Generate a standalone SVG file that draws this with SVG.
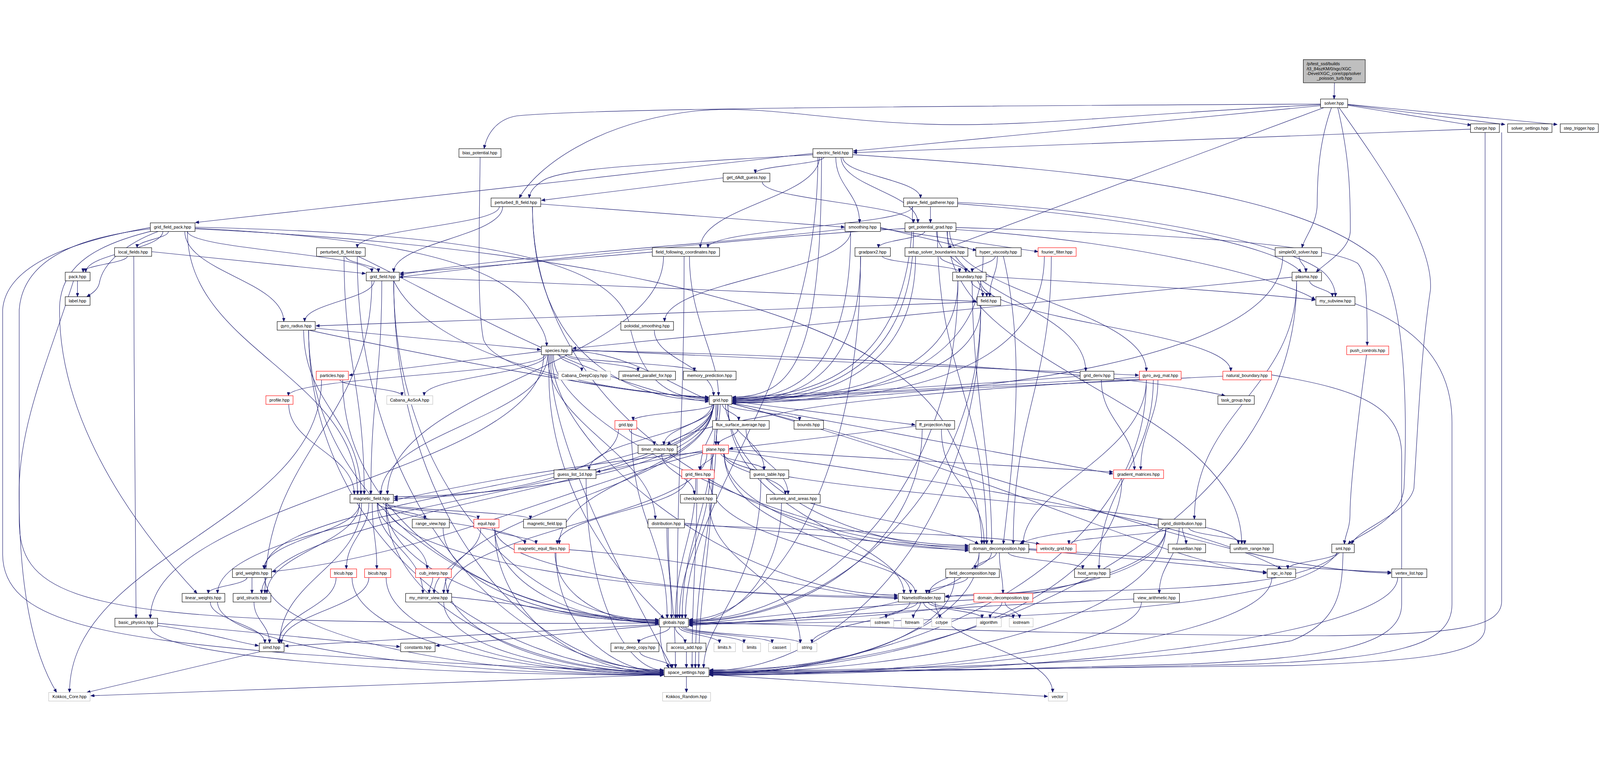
<svg xmlns="http://www.w3.org/2000/svg" width="4832" height="1948" viewBox="0 0 4832 1948" style="width:100%;height:100%">
<style>
.b rect{fill:#fff;stroke:#000;stroke-width:1.3}
.r rect{fill:#fff;stroke:#f00;stroke-width:1.3}
.g rect{fill:#fff;stroke:#bfbfbf;stroke-width:1.3}
.t rect{fill:#bfbfbf;stroke:#000;stroke-width:1.3}
text{font-family:"Liberation Sans",Arial,Helvetica,sans-serif;font-size:13px;fill:#000;text-anchor:middle}
.t text{text-anchor:start}
#edges path{fill:none;stroke:#191970;stroke-width:1.3;marker-end:url(#ah)}
</style>
<defs>
<marker id="ah" markerUnits="userSpaceOnUse" markerWidth="12" markerHeight="9" refX="11" refY="4.5" orient="auto"><path d="M0,0 L11,4.5 L0,9 z" fill="#191970" stroke="#191970" stroke-width="1"/></marker>
</defs>
<rect width="4832" height="1948" fill="#fff"/>
<g id="edges">
<path d="M4030,75 L4029,124"/>
<path d="M4070,143 L4443,203"/>
<path d="M4070,141 L4545,201"/>
<path d="M4070,140 L4703,201"/>
<path d="M3988,144 L2577,281"/>
<path d="M3988,139 C3000,145 1800,150 1560,175 C1500,185 1470,230 1462,274"/>
<path d="M3988,141 C3400,170 3100,210 2800,200 C2500,190 2300,140 2100,160 C1800,195 1620,330 1568,423"/>
<path d="M3998,150 L2862,573"/>
<path d="M4021,150 C3985,250 3978,350 3978,440 C3978,500 3940,540 3932,573"/>
<path d="M4040,150 C4075,300 4078,400 4078,520 C4078,580 4000,620 3975,647"/>
<path d="M4044,150 C4150,300 4330,550 4320,700 C4290,900 4283,1100 4270,1300 C4250,1380 4100,1420 4082,1468"/>
<path d="M4441,215 L2577,286"/>
<path d="M4485,225 C4485,600 4485,1500 4485,1720 C4485,1800 4300,1820 3900,1835 C3000,1850 2500,1852 2143,1855"/>
<path d="M4535,225 C4535,600 4535,1500 4535,1640 C4535,1720 4400,1740 4000,1745 C3000,1740 2500,1710 2081,1705"/>
<path d="M1450,299 C1448,500 1440,750 1460,850 C1500,960 1900,1010 2140,1026"/>
<path d="M2489,299 C2489,321 2281,326 2281,348"/>
<path d="M2455,292 C2000,320 1700,330 1640,370 C1610,390 1600,405 1598,423"/>
<path d="M2545,299 C2545,355 2780,367 2780,423"/>
<path d="M2455,288 L590,497"/>
<path d="M2524,299 C2524,389 2596,408 2596,498"/>
<path d="M2540,299 C2540,389 2772,408 2772,498"/>
<path d="M2475,299 C2475,422 2115,450 2115,573"/>
<path d="M2481,299 C2481,900 2400,1024 2212,1024"/>
<path d="M2470,299 C2470,1000 2070,1300 2070,1692"/>
<path d="M2575,292 C3300,340 3900,400 4150,600 C4250,700 4250,1100 4240,1300 C4230,1400 4100,1440 4071,1468"/>
<path d="M2184,362 L1635,430"/>
<path d="M2302,374 C2302,430 2759,442 2759,498"/>
<path d="M1508,449 C1508,505 1079,517 1079,573"/>
<path d="M1633,441 L2551,511"/>
<path d="M1518,449 C1518,538 1189,558 1189,647"/>
<path d="M1608,449 C1608,900 1900,1034 2140,1034"/>
<path d="M1608,449 C1608,1065 2266,1476 2925,1476"/>
<path d="M2810,449 L2810,498"/>
<path d="M2756,449 C2756,505 2138,517 2138,573"/>
<path d="M2892,440 C3400,480 3850,560 3930,647"/>
<path d="M2892,436 C3400,460 3900,560 4000,650 C4025,675 4033,700 4033,721"/>
<path d="M2756,449 C2756,950 2450,1027 2212,1027"/>
<path d="M509,523 C509,546 414,550 414,573"/>
<path d="M492,523 C492,579 259,591 259,647"/>
<path d="M480,523 C380,560 310,620 300,680 C295,700 280,710 262,721"/>
<path d="M566,523 C566,579 1123,591 1123,647"/>
<path d="M558,523 C558,646 857,673 857,796"/>
<path d="M566,523 C566,881 1080,960 1080,1318"/>
<path d="M589,511 C1400,530 1850,600 1900,800 C1930,950 2000,1030 2140,1030"/>
<path d="M589,514 C1100,540 1500,600 1600,760 C1640,820 1651,840 1651,870"/>
<path d="M454,512 C300,540 20,600 8,760 L8,1500 C10,1700 300,1750 900,1800 C1500,1840 1900,1850 2004,1854"/>
<path d="M454,516 C250,540 70,600 58,760 L58,1400 C60,1600 200,1680 1000,1700 C1600,1712 1900,1706 1989,1706"/>
<path d="M470,520 C300,560 185,620 180,750 C175,1000 300,1300 595,1617"/>
<path d="M589,516 C1500,560 2600,700 2850,1100 C2950,1280 2965,1400 2965,1468"/>
<path d="M385,598 C385,620 251,625 251,647"/>
<path d="M458,585 L1104,651"/>
<path d="M404,598 C404,1000 411,1500 411,1692"/>
<path d="M1043,598 C1043,620 1143,625 1143,647"/>
<path d="M1079,598 C1300,700 1800,1000 2140,1038"/>
<path d="M1039,598 C1039,922 1100,994 1100,1318"/>
<path d="M1079,598 C1079,1348 1541,1848 2004,1848"/>
<path d="M1970,586 L1208,650"/>
<path d="M2004,598 C2004,922 1170,994 1170,1318"/>
<path d="M2082,598 C2082,788 2170,900 2170,1020"/>
<path d="M2066,598 C2066,1090 2045,1200 2045,1692"/>
<path d="M2659,512 L2949,581"/>
<path d="M2659,515 L3135,585"/>
<path d="M2569,523 C2569,646 2007,673 2007,796"/>
<path d="M2552,516 C2200,560 1500,600 1208,655"/>
<path d="M2569,523 C2569,950 2400,1030 2212,1030"/>
<path d="M2793,523 C2793,546 2653,550 2653,573"/>
<path d="M2860,523 C2860,713 3279,756 3279,946"/>
<path d="M2868,523 C2868,713 3462,756 3462,946"/>
<path d="M2759,523 C2759,960 2450,1033 2212,1033"/>
<path d="M2733,515 C2300,540 1700,600 1206,662"/>
<path d="M2887,512 C3500,530 4000,560 4100,620 C4125,650 4129,700 4129,868"/>
<path d="M2831,523 C2831,948 2980,1043 2980,1468"/>
<path d="M2828,523 C2828,612 2968,632 2968,721"/>
<path d="M2887,518 C3500,560 3900,680 3972,730"/>
<path d="M2861,523 C2861,948 3750,1043 3750,1468"/>
<path d="M2664,598 C2664,620 2898,625 2898,647"/>
<path d="M2599,598 C2599,970 2400,1036 2212,1036"/>
<path d="M2599,598 C2599,1257 2340,1696 2081,1696"/>
<path d="M2838,598 C2838,620 2917,625 2917,647"/>
<path d="M2765,598 C2765,970 2450,1039 2212,1039"/>
<path d="M3006,598 C3006,620 2936,625 2936,647"/>
<path d="M3012,598 C3012,654 2989,665 2989,721"/>
<path d="M2969,598 C2969,990 2500,1042 2212,1042"/>
<path d="M3030,598 C3100,900 3060,1200 3030,1468"/>
<path d="M3154,598 C3154,990 2600,1040 2212,1040"/>
<path d="M3175,598 C3175,989 3060,1077 3060,1468"/>
<path d="M3923,598 C3923,620 3944,625 3944,647"/>
<path d="M3874,598 C3874,950 2700,1035 2212,1035"/>
<path d="M234,673 L234,721"/>
<path d="M222,673 C150,900 60,1100 58,1300 C56,1600 100,1800 171,1916"/>
<path d="M1130,673 C1130,728 920,741 920,796"/>
<path d="M1206,661 L2949,735"/>
<path d="M1189,673 C1300,900 1800,1010 2140,1024"/>
<path d="M1153,673 C1153,963 1120,1028 1120,1318"/>
<path d="M1189,673 C1189,1291 1589,1698 1989,1698"/>
<path d="M1189,673 C1189,1379 1596,1850 2004,1850"/>
<path d="M1123,673 C1123,1098 800,1192 800,1617"/>
<path d="M2933,673 C2933,695 2980,699 2980,721"/>
<path d="M2961,673 C2961,796 3717,823 3717,946"/>
<path d="M2978,660 C3300,680 3700,700 3972,731"/>
<path d="M2893,673 C2893,980 2500,1032 2212,1032"/>
<path d="M2936,673 C2936,1000 2995,1200 2995,1468"/>
<path d="M2893,673 C2893,1288 2487,1698 2081,1698"/>
<path d="M3955,673 C3955,695 4024,699 4024,721"/>
<path d="M3902,662 L1729,877"/>
<path d="M3916,673 C3916,997 3607,1069 3607,1393"/>
<path d="M3916,673 C3916,1378 3030,1848 2143,1848"/>
<path d="M2951,737 L954,809"/>
<path d="M2962,747 C2962,990 2500,1028 2212,1028"/>
<path d="M2962,747 C2962,1319 2521,1700 2081,1700"/>
<path d="M2962,747 C2962,1404 2553,1850 2143,1850"/>
<path d="M4092,742 C4250,800 4385,900 4385,1100 L4385,1650 C4385,1780 4200,1810 3800,1830 C3000,1850 2500,1855 2143,1857"/>
<path d="M952,816 L1633,881"/>
<path d="M917,822 C917,1046 1090,1094 1090,1318"/>
<path d="M932,822 C1300,900 1800,1000 2140,1028"/>
<path d="M932,822 C932,1346 1460,1696 1989,1696"/>
<path d="M932,822 C932,1439 1468,1852 2004,1852"/>
<path d="M1976,822 C1976,911 2155,931 2155,1020"/>
<path d="M1689,896 C1689,918 1757,924 1757,946"/>
<path d="M1708,896 C1708,918 1927,924 1927,946"/>
<path d="M1716,896 C1716,918 2097,924 2097,946"/>
<path d="M1650,896 C1650,952 1281,964 1281,1020"/>
<path d="M1635,886 L1054,958"/>
<path d="M1646,896 C1646,952 871,964 871,1020"/>
<path d="M1727,885 C1900,890 2050,1000 2140,1032"/>
<path d="M1727,881 L3439,958"/>
<path d="M1727,883 C2600,900 3400,950 3700,1020"/>
<path d="M1654,896 C1654,1086 1150,1128 1150,1318"/>
<path d="M1660,896 C1645,1100 1700,1400 2005,1692"/>
<path d="M1664,896 C1648,1150 1900,1600 2030,1842"/>
<path d="M1668,896 C1650,1150 2200,1620 2711,1622"/>
<path d="M1672,896 C1655,1100 2400,1470 2925,1472"/>
<path d="M1656,896 C1640,1100 1979,1200 1979,1393"/>
<path d="M1642,896 C1642,1254 454,1334 454,1692"/>
<path d="M4127,896 C4100,1100 4077,1300 4077,1380 C4077,1420 4062,1440 4060,1468"/>
<path d="M1026,971 C1026,993 1214,998 1214,1020"/>
<path d="M971,971 C971,1400 210,1500 210,1916"/>
<path d="M1035,971 C1035,1408 1512,1699 1989,1699"/>
<path d="M3326,972 C3326,1094 3426,1122 3426,1244"/>
<path d="M3262,961 C2900,990 2500,1010 2212,1025"/>
<path d="M3497,972 C3497,1094 3445,1122 3445,1244"/>
<path d="M3441,964 C3000,990 2500,1015 2212,1031"/>
<path d="M3483,972 C3483,1229 3319,1286 3319,1543"/>
<path d="M3462,972 C3462,1200 3090,1300 3090,1468"/>
<path d="M3441,970 C2900,1000 2500,1040 2350,1075 C2150,1110 2060,1130 2015,1169"/>
<path d="M3462,972 C3462,1500 2803,1852 2143,1852"/>
<path d="M3693,961 C3200,985 2600,1010 2212,1037"/>
<path d="M3840,957 C4100,1000 4233,1050 4233,1200 L4233,1650 C4233,1780 4000,1810 3600,1830 C2900,1850 2500,1855 2143,1860"/>
<path d="M872,1046 C872,1168 1070,1196 1070,1318"/>
<path d="M2154,1046 C2154,1068 1912,1073 1912,1095"/>
<path d="M2182,1046 C2182,1068 2231,1073 2231,1095"/>
<path d="M2198,1046 C2198,1068 2415,1073 2415,1095"/>
<path d="M2210,1036 L2764,1108"/>
<path d="M2157,1046 C2157,1102 2005,1113 2005,1169"/>
<path d="M2175,1046 C2175,1102 2162,1113 2162,1169"/>
<path d="M2150,1046 C2150,1135 1779,1155 1779,1244"/>
<path d="M2169,1046 C2169,1135 2115,1155 2115,1244"/>
<path d="M2191,1046 C2191,1135 2308,1155 2308,1244"/>
<path d="M2210,1042 L3361,1256"/>
<path d="M2154,1046 C2154,1250 1500,1325 1190,1325"/>
<path d="M2198,1046 C2198,1300 2600,1480 2925,1480"/>
<path d="M2198,1046 C2198,1400 2730,1450 2730,1617"/>
<path d="M2162,1046 C2162,1350 2060,1450 2060,1692"/>
<path d="M2166,1046 C2166,1400 2100,1500 2100,1842"/>
<path d="M2154,1046 C2154,1270 800,1319 800,1543"/>
<path d="M2154,1046 C2154,1303 790,1360 790,1617"/>
<path d="M2154,1046 C2154,1303 1340,1360 1340,1617"/>
<path d="M2210,1044 C3200,1300 3700,1540 4201,1556"/>
<path d="M2210,1043 C3100,1290 3500,1520 3825,1556"/>
<path d="M2154,1046 C2154,1236 1689,1278 1689,1468"/>
<path d="M2154,1046 C2154,1303 657,1360 657,1617"/>
<path d="M1900,1121 C1900,1143 1976,1147 1976,1169"/>
<path d="M1868,1121 C1868,1250 1500,1330 1190,1330"/>
<path d="M1907,1121 C1907,1400 2015,1450 2015,1692"/>
<path d="M2229,1121 C2229,1143 2169,1147 2169,1169"/>
<path d="M2253,1121 C2253,1210 2380,1229 2380,1318"/>
<path d="M2766,1112 L2202,1180"/>
<path d="M2843,1121 C2843,1294 2972,1295 2972,1468"/>
<path d="M2785,1121 C2785,1470 2433,1702 2081,1702"/>
<path d="M1998,1195 C1998,1251 2097,1262 2097,1318"/>
<path d="M2122,1186 L1802,1250"/>
<path d="M2156,1195 C2156,1217 2113,1222 2113,1244"/>
<path d="M2177,1195 C2177,1217 2307,1222 2307,1244"/>
<path d="M2122,1190 C1700,1230 1400,1290 1190,1336"/>
<path d="M2185,1195 C2185,1251 2372,1262 2372,1318"/>
<path d="M2200,1182 L3361,1250"/>
<path d="M2187,1195 C2187,1360 2550,1484 2925,1484"/>
<path d="M2187,1195 C2187,1450 2750,1480 2750,1617"/>
<path d="M2200,1186 C3000,1300 3600,1400 3870,1543"/>
<path d="M2187,1195 C2187,1318 3740,1345 3740,1468"/>
<path d="M2122,1192 C1700,1300 1300,1500 822,1551"/>
<path d="M2135,1195 C2135,1385 1352,1427 1352,1617"/>
<path d="M2148,1195 C2148,1450 2052,1500 2052,1692"/>
<path d="M2152,1195 C2152,1500 2110,1600 2110,1842"/>
<path d="M1770,1270 C1770,1617 1887,1849 2004,1849"/>
<path d="M2075,1270 C2075,1359 1683,1379 1683,1468"/>
<path d="M2101,1270 C2101,1450 2040,1500 2040,1692"/>
<path d="M2141,1270 C2141,1480 2765,1500 2765,1617"/>
<path d="M2105,1270 C2105,1500 2090,1600 2090,1842"/>
<path d="M2298,1270 C2298,1600 2125,1700 2125,1842"/>
<path d="M3388,1270 C3388,1620 2766,1854 2143,1854"/>
<path d="M1140,1344 C1140,1366 1283,1371 1283,1393"/>
<path d="M1157,1344 C1157,1366 1444,1371 1444,1393"/>
<path d="M1165,1344 C1165,1366 1602,1371 1602,1393"/>
<path d="M1114,1344 C1114,1433 1046,1454 1046,1543"/>
<path d="M1124,1344 C1124,1433 1138,1454 1138,1543"/>
<path d="M1141,1344 C1141,1433 1290,1454 1290,1543"/>
<path d="M1165,1344 C1165,1400 1585,1412 1585,1468"/>
<path d="M1139,1344 C1139,1467 1277,1494 1277,1617"/>
<path d="M1165,1344 C1165,1558 1577,1701 1989,1701"/>
<path d="M1165,1344 C1165,1651 1584,1856 2004,1856"/>
<path d="M1165,1344 C1165,1513 1938,1626 2711,1626"/>
<path d="M1092,1344 C1092,1534 845,1577 845,1767"/>
<path d="M1086,1344 C1086,1433 797,1454 797,1543"/>
<path d="M1086,1344 C1086,1467 806,1494 806,1617"/>
<path d="M2142,1344 C2142,1534 2417,1577 2417,1767"/>
<path d="M2360,1344 C2360,1560 2220,1704 2081,1704"/>
<path d="M2447,1344 C2600,1390 2900,1430 2955,1468"/>
<path d="M1338,1419 C1338,1589 1663,1703 1989,1703"/>
<path d="M1486,1419 C1486,1441 1619,1446 1619,1468"/>
<path d="M1494,1419 C1494,1591 1741,1705 1989,1705"/>
<path d="M1494,1419 C1494,1546 2102,1630 2711,1630"/>
<path d="M1494,1419 C1494,1682 1749,1858 2004,1858"/>
<path d="M1452,1419 C1452,1508 1311,1528 1311,1617"/>
<path d="M2067,1405 C2500,1440 2800,1480 2925,1488"/>
<path d="M2067,1410 C2600,1430 3000,1440 3140,1468"/>
<path d="M2014,1419 C2014,1550 2028,1560 2028,1692"/>
<path d="M2018,1419 C2018,1609 2040,1652 2040,1842"/>
<path d="M3571,1419 C3571,1441 3582,1446 3582,1468"/>
<path d="M3561,1419 C3561,1508 3501,1528 3501,1617"/>
<path d="M3531,1419 C3531,1441 3228,1446 3228,1468"/>
<path d="M3590,1419 C3590,1441 3759,1446 3759,1468"/>
<path d="M3498,1408 C3300,1420 3120,1440 3080,1468"/>
<path d="M3521,1419 C3521,1550 3200,1625 2855,1625"/>
<path d="M3521,1419 C3521,1591 2801,1706 2081,1706"/>
<path d="M3521,1419 C3521,1681 2832,1856 2143,1856"/>
<path d="M1015,1569 C1015,1658 842,1678 842,1767"/>
<path d="M1063,1569 C1063,1744 1533,1860 2004,1860"/>
<path d="M1114,1569 C1114,1658 850,1678 850,1767"/>
<path d="M1166,1569 C1166,1744 1585,1861 2004,1861"/>
<path d="M746,1569 C746,1591 629,1595 629,1617"/>
<path d="M761,1569 L761,1617"/>
<path d="M800,1569 C800,1745 1402,1862 2004,1862"/>
<path d="M1676,1494 C1676,1622 1832,1707 1989,1707"/>
<path d="M1679,1494 C1679,1710 1841,1854 2004,1854"/>
<path d="M1719,1485 C2200,1520 2500,1628 2711,1632"/>
<path d="M3009,1494 C3009,1516 2945,1521 2945,1543"/>
<path d="M3018,1494 C3018,1550 3029,1561 3029,1617"/>
<path d="M3045,1494 C3045,1516 3270,1521 3270,1543"/>
<path d="M2994,1494 C2994,1550 2806,1561 2806,1617"/>
<path d="M2957,1494 C2957,1622 2519,1708 2081,1708"/>
<path d="M2957,1494 C2957,1712 2550,1858 2143,1858"/>
<path d="M3107,1485 C3400,1510 3700,1540 3825,1553"/>
<path d="M3107,1482 C3500,1510 3900,1540 4201,1553"/>
<path d="M4037,1494 C4037,1516 3889,1521 3889,1543"/>
<path d="M4045,1494 C3950,1580 3700,1600 3300,1610 C3000,1615 2900,1620 2855,1628"/>
<path d="M4056,1494 C4053,1600 4050,1700 3900,1760 C3500,1830 2600,1851 2143,1851"/>
<path d="M4040,1494 C3950,1620 3500,1700 2081,1710"/>
<path d="M1307,1569 C1307,1591 1296,1595 1296,1617"/>
<path d="M1345,1569 C1345,1742 1674,1857 2004,1857"/>
<path d="M2922,1569 C2922,1591 2798,1595 2798,1617"/>
<path d="M2883,1569 C2883,1740 2513,1860 2143,1860"/>
<path d="M3841,1569 C3841,1744 2992,1862 2143,1862"/>
<path d="M4221,1569 C4221,1745 3182,1863 2143,1863"/>
<path d="M635,1643 C635,1699 800,1711 800,1767"/>
<path d="M657,1643 C657,1775 1330,1863 2004,1863"/>
<path d="M767,1643 C767,1699 814,1711 814,1767"/>
<path d="M1364,1628 C1600,1650 1850,1700 1989,1709"/>
<path d="M1340,1643 C1340,1772 1672,1859 2004,1859"/>
<path d="M2748,1643 C2748,1699 2452,1711 2452,1767"/>
<path d="M2771,1643 C2771,1665 2676,1670 2676,1692"/>
<path d="M2780,1643 C2780,1665 2758,1670 2758,1692"/>
<path d="M2789,1643 C2789,1665 2838,1670 2838,1692"/>
<path d="M2803,1643 C2803,1665 2966,1670 2966,1692"/>
<path d="M2813,1643 C2813,1665 3060,1670 3060,1692"/>
<path d="M2824,1643 C2824,1766 3179,1793 3179,1916"/>
<path d="M3026,1643 C3026,1665 2990,1670 2990,1692"/>
<path d="M3035,1643 C3035,1665 3079,1670 3079,1692"/>
<path d="M2941,1636 C2500,1660 2200,1700 2081,1712"/>
<path d="M3424,1634 C2800,1660 2300,1700 2081,1714"/>
<path d="M3447,1643 C3447,1776 2795,1864 2143,1864"/>
<path d="M476,1714 C600,1730 700,1760 781,1775"/>
<path d="M476,1707 L1208,1778"/>
<path d="M454,1718 C454,1806 1229,1864 2004,1864"/>
<path d="M2023,1718 C2023,1740 1929,1745 1929,1767"/>
<path d="M2039,1718 C2039,1740 2069,1745 2069,1767"/>
<path d="M2050,1718 C2050,1740 2173,1745 2173,1767"/>
<path d="M2058,1718 C2058,1740 2247,1745 2247,1767"/>
<path d="M2064,1718 C2064,1740 2332,1745 2332,1767"/>
<path d="M2070,1718 C2070,1740 2417,1745 2417,1767"/>
<path d="M1991,1712 L1316,1775"/>
<path d="M1995,1718 C1990,1760 2000,1800 2020,1842"/>
<path d="M1991,1710 C1500,1740 1100,1760 860,1776"/>
<path d="M785,1793 L262,1916"/>
<path d="M1932,1793 C1932,1815 2030,1820 2030,1842"/>
<path d="M2073,1793 L2073,1842"/>
<path d="M2073,1868 L2073,1916"/>
<path d="M2006,1862 L274,1926"/>
<path d="M2141,1862 L3164,1928"/>
</g>
<g id="n_title" class="t"><rect x="3936" y="5" width="187" height="70"/><text x="3946" y="22">/p/test_ssd/builds</text><text x="3946" y="37">/t3_84szKM/0/xgc/XGC</text><text x="3946" y="51">-Devel/XGC_core/cpp/solver</text><text x="4030" y="66" style="text-anchor:middle">_poisson_turb.hpp</text></g>
<g id="n_solver" class="b"><rect x="3988" y="124" width="82" height="26"/><text x="4029" y="141.5">solver.hpp</text></g>
<g id="n_charge" class="b"><rect x="4441" y="199" width="87" height="26"/><text x="4484" y="216.5">charge.hpp</text></g>
<g id="n_solver_settings" class="b"><rect x="4553" y="199" width="134" height="26"/><text x="4620" y="216.5">solver_settings.hpp</text></g>
<g id="n_step_trigger" class="b"><rect x="4712" y="199" width="115" height="26"/><text x="4769" y="216.5">step_trigger.hpp</text></g>
<g id="n_bias_potential" class="b"><rect x="1386" y="274" width="127" height="26"/><text x="1449" y="291.5">bias_potential.hpp</text></g>
<g id="n_electric_field" class="b"><rect x="2455" y="274" width="120" height="26"/><text x="2515" y="291.5">electric_field.hpp</text></g>
<g id="n_get_dAdt_guess" class="b"><rect x="2184" y="348" width="141" height="26"/><text x="2254" y="365.5">get_dAdt_guess.hpp</text></g>
<g id="n_perturbed_B_field_hpp" class="b"><rect x="1483" y="423" width="150" height="26"/><text x="1558" y="440.5">perturbed_B_field.hpp</text></g>
<g id="n_plane_field_gatherer" class="b"><rect x="2729" y="423" width="163" height="26"/><text x="2810" y="440.5">plane_field_gatherer.hpp</text></g>
<g id="n_grid_field_pack" class="b"><rect x="454" y="498" width="135" height="26"/><text x="521" y="515.5">grid_field_pack.hpp</text></g>
<g id="n_smoothing" class="b"><rect x="2552" y="498" width="107" height="26"/><text x="2605" y="515.5">smoothing.hpp</text></g>
<g id="n_get_potential_grad" class="b"><rect x="2733" y="498" width="154" height="26"/><text x="2810" y="515.5">get_potential_grad.hpp</text></g>
<g id="n_local_fields" class="b"><rect x="346" y="573" width="112" height="26"/><text x="402" y="590.5">local_fields.hpp</text></g>
<g id="n_perturbed_B_field_tpp" class="b"><rect x="956" y="573" width="147" height="26"/><text x="1029" y="590.5">perturbed_B_field.tpp</text></g>
<g id="n_field_following_coordinates" class="b"><rect x="1970" y="573" width="203" height="26"/><text x="2071" y="590.5">field_following_coordinates.hpp</text></g>
<g id="n_gradparx2" class="b"><rect x="2582" y="573" width="107" height="26"/><text x="2635" y="590.5">gradparx2.hpp</text></g>
<g id="n_setup_solver_boundaries" class="b"><rect x="2733" y="573" width="190" height="26"/><text x="2828" y="590.5">setup_solver_boundaries.hpp</text></g>
<g id="n_hyper_viscosity" class="b"><rect x="2947" y="573" width="137" height="26"/><text x="3015" y="590.5">hyper_viscosity.hpp</text></g>
<g id="n_fourier_filter" class="r"><rect x="3135" y="573" width="115" height="26"/><text x="3192" y="590.5">fourier_filter.hpp</text></g>
<g id="n_simple00_solver" class="b"><rect x="3851" y="573" width="140" height="26"/><text x="3921" y="590.5">simple00_solver.hpp</text></g>
<g id="n_pack" class="b"><rect x="197" y="647" width="75" height="26"/><text x="234" y="664.5">pack.hpp</text></g>
<g id="n_grid_field" class="b"><rect x="1106" y="647" width="100" height="26"/><text x="1156" y="664.5">grid_field.hpp</text></g>
<g id="n_boundary" class="b"><rect x="2877" y="647" width="101" height="26"/><text x="2927" y="664.5">boundary.hpp</text></g>
<g id="n_plasma" class="b"><rect x="3902" y="647" width="89" height="26"/><text x="3946" y="664.5">plasma.hpp</text></g>
<g id="n_label" class="b"><rect x="197" y="721" width="75" height="26"/><text x="234" y="738.5">label.hpp</text></g>
<g id="n_field" class="b"><rect x="2951" y="721" width="71" height="26"/><text x="2986" y="738.5">field.hpp</text></g>
<g id="n_my_subview" class="b"><rect x="3974" y="721" width="118" height="26"/><text x="4033" y="738.5">my_subview.hpp</text></g>
<g id="n_gyro_radius" class="b"><rect x="837" y="796" width="115" height="26"/><text x="894" y="813.5">gyro_radius.hpp</text></g>
<g id="n_poloidal_smoothing" class="b"><rect x="1875" y="796" width="159" height="26"/><text x="1954" y="813.5">poloidal_smoothing.hpp</text></g>
<g id="n_species" class="b"><rect x="1635" y="870" width="92" height="26"/><text x="1681" y="887.5">species.hpp</text></g>
<g id="n_push_controls" class="r"><rect x="4067" y="870" width="127" height="26"/><text x="4130" y="887.5">push_controls.hpp</text></g>
<g id="n_particles" class="r"><rect x="955" y="946" width="97" height="26"/><text x="1003" y="963.5">particles.hpp</text></g>
<g id="n_Cabana_DeepCopy" class="g"><rect x="1686" y="946" width="158" height="26"/><text x="1765" y="963.5">Cabana_DeepCopy.hpp</text></g>
<g id="n_streamed_parallel_for" class="b"><rect x="1869" y="946" width="171" height="26"/><text x="1954" y="963.5">streamed_parallel_for.hpp</text></g>
<g id="n_memory_prediction" class="b"><rect x="2064" y="946" width="159" height="26"/><text x="2143" y="963.5">memory_prediction.hpp</text></g>
<g id="n_grid_deriv" class="b"><rect x="3262" y="946" width="102" height="26"/><text x="3313" y="963.5">grid_deriv.hpp</text></g>
<g id="n_gyro_avg_mat" class="r"><rect x="3441" y="946" width="126" height="26"/><text x="3504" y="963.5">gyro_avg_mat.hpp</text></g>
<g id="n_natural_boundary" class="r"><rect x="3693" y="946" width="147" height="26"/><text x="3766" y="963.5">natural_boundary.hpp</text></g>
<g id="n_profile" class="r"><rect x="803" y="1020" width="82" height="26"/><text x="844" y="1037.5">profile.hpp</text></g>
<g id="n_Cabana_AoSoA" class="g"><rect x="1168" y="1020" width="139" height="26"/><text x="1237" y="1037.5">Cabana_AoSoA.hpp</text></g>
<g id="n_grid" class="b"><rect x="2142" y="1020" width="68" height="26"/><text x="2176" y="1037.5">grid.hpp</text></g>
<g id="n_task_group" class="b"><rect x="3678" y="1020" width="110" height="26"/><text x="3733" y="1037.5">task_group.hpp</text></g>
<g id="n_grid_tpp" class="r"><rect x="1857" y="1095" width="66" height="26"/><text x="1890" y="1112.5">grid.tpp</text></g>
<g id="n_flux_surface_average" class="b"><rect x="2152" y="1095" width="171" height="26"/><text x="2237" y="1112.5">flux_surface_average.hpp</text></g>
<g id="n_bounds" class="b"><rect x="2398" y="1095" width="89" height="26"/><text x="2442" y="1112.5">bounds.hpp</text></g>
<g id="n_ff_projection" class="b"><rect x="2766" y="1095" width="117" height="26"/><text x="2824" y="1112.5">ff_projection.hpp</text></g>
<g id="n_timer_macro" class="b"><rect x="1927" y="1169" width="118" height="26"/><text x="1986" y="1186.5">timer_macro.hpp</text></g>
<g id="n_plane" class="r"><rect x="2122" y="1169" width="78" height="26"/><text x="2161" y="1186.5">plane.hpp</text></g>
<g id="n_guess_list_1d" class="b"><rect x="1673" y="1244" width="127" height="26"/><text x="1736" y="1261.5">guess_list_1d.hpp</text></g>
<g id="n_grid_files" class="r"><rect x="2059" y="1244" width="98" height="26"/><text x="2108" y="1261.5">grid_files.hpp</text></g>
<g id="n_guess_table" class="b"><rect x="2265" y="1244" width="117" height="26"/><text x="2323" y="1261.5">guess_table.hpp</text></g>
<g id="n_gradient_matrices" class="r"><rect x="3363" y="1244" width="151" height="26"/><text x="3438" y="1261.5">gradient_matrices.hpp</text></g>
<g id="n_magnetic_field" class="b"><rect x="1057" y="1318" width="131" height="26"/><text x="1122" y="1335.5">magnetic_field.hpp</text></g>
<g id="n_checkpoint" class="b"><rect x="2055" y="1318" width="109" height="26"/><text x="2109" y="1335.5">checkpoint.hpp</text></g>
<g id="n_volumes_and_areas" class="b"><rect x="2315" y="1318" width="162" height="26"/><text x="2396" y="1335.5">volumes_and_areas.hpp</text></g>
<g id="n_range_view" class="b"><rect x="1245" y="1393" width="112" height="26"/><text x="1301" y="1410.5">range_view.hpp</text></g>
<g id="n_equil" class="r"><rect x="1431" y="1393" width="76" height="26"/><text x="1469" y="1410.5">equil.hpp</text></g>
<g id="n_magnetic_field_tpp" class="b"><rect x="1581" y="1393" width="129" height="26"/><text x="1645" y="1410.5">magnetic_field.tpp</text></g>
<g id="n_distribution" class="b"><rect x="1957" y="1393" width="110" height="26"/><text x="2012" y="1410.5">distribution.hpp</text></g>
<g id="n_vgrid_distribution" class="b"><rect x="3498" y="1393" width="143" height="26"/><text x="3569" y="1410.5">vgrid_distribution.hpp</text></g>
<g id="n_magnetic_equil_files" class="r"><rect x="1553" y="1468" width="166" height="26"/><text x="1636" y="1485.5">magnetic_equil_files.hpp</text></g>
<g id="n_domain_decomposition_hpp" class="b"><rect x="2927" y="1468" width="180" height="26"/><text x="3017" y="1485.5">domain_decomposition.hpp</text></g>
<g id="n_velocity_grid" class="r"><rect x="3131" y="1468" width="119" height="26"/><text x="3190" y="1485.5">velocity_grid.hpp</text></g>
<g id="n_maxwellian" class="b"><rect x="3528" y="1468" width="113" height="26"/><text x="3584" y="1485.5">maxwellian.hpp</text></g>
<g id="n_uniform_range" class="b"><rect x="3715" y="1468" width="130" height="26"/><text x="3780" y="1485.5">uniform_range.hpp</text></g>
<g id="n_sml" class="b"><rect x="4022" y="1468" width="68" height="26"/><text x="4056" y="1485.5">sml.hpp</text></g>
<g id="n_tricub" class="r"><rect x="998" y="1543" width="79" height="26"/><text x="1037" y="1560.5">tricub.hpp</text></g>
<g id="n_bicub" class="r"><rect x="1101" y="1543" width="79" height="26"/><text x="1140" y="1560.5">bicub.hpp</text></g>
<g id="n_grid_weights" class="b"><rect x="702" y="1543" width="118" height="26"/><text x="761" y="1560.5">grid_weights.hpp</text></g>
<g id="n_cub_interp" class="r"><rect x="1255" y="1543" width="108" height="26"/><text x="1309" y="1560.5">cub_interp.hpp</text></g>
<g id="n_field_decomposition" class="b"><rect x="2856" y="1543" width="162" height="26"/><text x="2937" y="1560.5">field_decomposition.hpp</text></g>
<g id="n_host_array" class="b"><rect x="3245" y="1543" width="107" height="26"/><text x="3298" y="1560.5">host_array.hpp</text></g>
<g id="n_xgc_io" class="b"><rect x="3827" y="1543" width="86" height="26"/><text x="3870" y="1560.5">xgc_io.hpp</text></g>
<g id="n_vertex_list" class="b"><rect x="4203" y="1543" width="106" height="26"/><text x="4256" y="1560.5">vertex_list.hpp</text></g>
<g id="n_linear_weights" class="b"><rect x="550" y="1617" width="129" height="26"/><text x="614" y="1634.5">linear_weights.hpp</text></g>
<g id="n_grid_structs" class="b"><rect x="704" y="1617" width="114" height="26"/><text x="761" y="1634.5">grid_structs.hpp</text></g>
<g id="n_my_mirror_view" class="b"><rect x="1225" y="1617" width="139" height="26"/><text x="1294" y="1634.5">my_mirror_view.hpp</text></g>
<g id="n_NamelistReader" class="b"><rect x="2713" y="1617" width="140" height="26"/><text x="2783" y="1634.5">NamelistReader.hpp</text></g>
<g id="n_domain_decomposition_tpp" class="r"><rect x="2941" y="1617" width="178" height="26"/><text x="3030" y="1634.5">domain_decomposition.tpp</text></g>
<g id="n_view_arithmetic" class="b"><rect x="3424" y="1617" width="138" height="26"/><text x="3493" y="1634.5">view_arithmetic.hpp</text></g>
<g id="n_basic_physics" class="b"><rect x="347" y="1692" width="129" height="26"/><text x="411" y="1709.5">basic_physics.hpp</text></g>
<g id="n_globals" class="b"><rect x="1991" y="1692" width="88" height="26"/><text x="2035" y="1709.5">globals.hpp</text></g>
<g id="n_sstream" class="g"><rect x="2629" y="1692" width="70" height="26"/><text x="2664" y="1709.5">sstream</text></g>
<g id="n_fstream" class="g"><rect x="2722" y="1692" width="67" height="26"/><text x="2755" y="1709.5">fstream</text></g>
<g id="n_cctype" class="g"><rect x="2814" y="1692" width="60" height="26"/><text x="2844" y="1709.5">cctype</text></g>
<g id="n_algorithm" class="g"><rect x="2949" y="1692" width="75" height="26"/><text x="2986" y="1709.5">algorithm</text></g>
<g id="n_iostream" class="g"><rect x="3048" y="1692" width="72" height="26"/><text x="3084" y="1709.5">iostream</text></g>
<g id="n_simd" class="b"><rect x="783" y="1767" width="75" height="26"/><text x="820" y="1784.5">simd.hpp</text></g>
<g id="n_constants" class="b"><rect x="1210" y="1767" width="104" height="26"/><text x="1262" y="1784.5">constants.hpp</text></g>
<g id="n_array_deep_copy" class="b"><rect x="1845" y="1767" width="145" height="26"/><text x="1917" y="1784.5">array_deep_copy.hpp</text></g>
<g id="n_access_add" class="b"><rect x="2014" y="1767" width="118" height="26"/><text x="2073" y="1784.5">access_add.hpp</text></g>
<g id="n_limits_h" class="g"><rect x="2156" y="1767" width="65" height="26"/><text x="2188" y="1784.5">limits.h</text></g>
<g id="n_limits" class="g"><rect x="2243" y="1767" width="54" height="26"/><text x="2270" y="1784.5">limits</text></g>
<g id="n_cassert" class="g"><rect x="2321" y="1767" width="66" height="26"/><text x="2354" y="1784.5">cassert</text></g>
<g id="n_string" class="g"><rect x="2408" y="1767" width="59" height="26"/><text x="2437" y="1784.5">string</text></g>
<g id="n_space_settings" class="b"><rect x="2006" y="1842" width="135" height="26"/><text x="2073" y="1859.5">space_settings.hpp</text></g>
<g id="n_Kokkos_Core" class="g"><rect x="147" y="1916" width="125" height="26"/><text x="210" y="1933.5">Kokkos_Core.hpp</text></g>
<g id="n_Kokkos_Random" class="g"><rect x="2001" y="1916" width="145" height="26"/><text x="2073" y="1933.5">Kokkos_Random.hpp</text></g>
<g id="n_vector" class="g"><rect x="3166" y="1916" width="57" height="26"/><text x="3194" y="1933.5">vector</text></g>
</svg>
